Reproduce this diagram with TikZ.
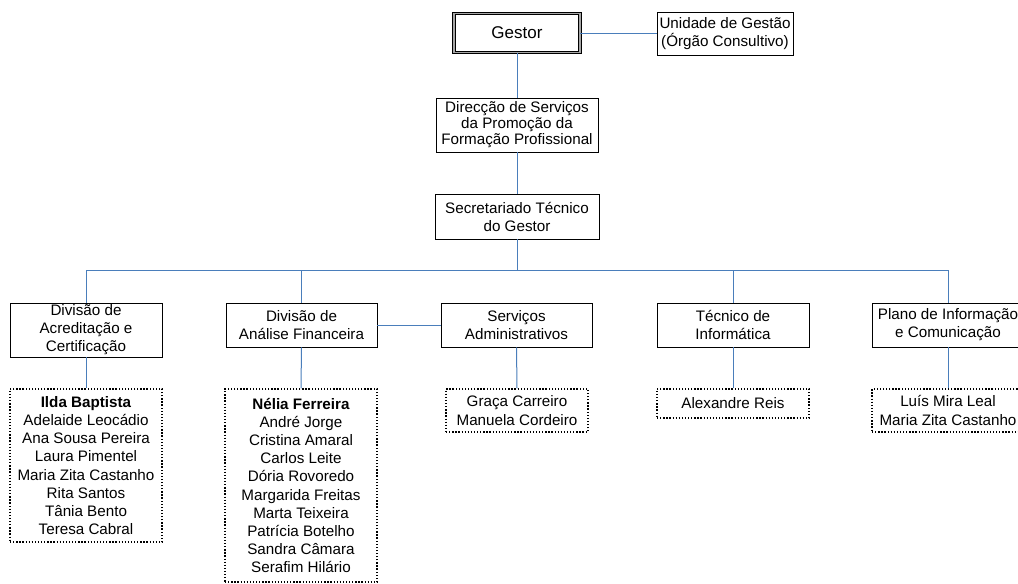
\documentclass[tikz,border=0pt]{standalone}
\usepackage{fontspec}
\setmainfont{Liberation Sans}
\definecolor{conn}{RGB}{74,126,187}
\begin{document}
\begin{tikzpicture}[x=1pt,y=-1pt,
  box/.style={draw=black, line width=0.9pt, fill=white, inner sep=0pt, align=center,
    font=\fontsize{15.2}{18}\selectfont},
  lst/.style={draw=black, line width=1.3pt, dash pattern=on 1.3pt off 1.8pt, fill=white, inner sep=0pt, align=center,
    font=\fontsize{15.2}{18.2}\selectfont},
  link/.style={draw=conn, line width=1pt}]
\useasboundingbox (0,0) rectangle (1018,584);
\clip (0,0) rectangle (1018,584);
\fill[white] (0,0) rectangle (1018,584);

% top
\node[box, line width=0.8pt, double=gray!70, double distance=1.6pt, minimum width=126, minimum height=39,
  font=\fontsize{17}{20}\selectfont] (gestor) at (517,33) {Gestor};
\node[box, minimum width=136, minimum height=43] (unid) at (725,33.5) {Unidade de Gestão\\(Órgão Consultivo)};
\node[box, minimum width=162, minimum height=54, font=\fontsize{15.2}{16}\selectfont] (dir) at (517,125)
  {Direcção de Serviços\\da Promoção da\\Formação Profissional};
\node[box, minimum width=164, minimum height=45] (sec) at (517,216.5) {Secretariado Técnico\\do Gestor};

% second level
\node[box, minimum width=152, minimum height=54] (acr) at (86,330) {Divisão de\\Acreditação e\\Certificação};
\node[box, minimum width=151, minimum height=44] (ana) at (301.5,325) {Divisão de\\Análise Financeira};
\node[box, minimum width=151, minimum height=44] (serv) at (516.5,325) {Serviços\\Administrativos};
\node[box, minimum width=152, minimum height=44] (tec) at (733,325) {Técnico de\\Informática};
\node[box, minimum width=152, minimum height=44] (plano) at (948,325) {Plano de Informação\\e Comunicação};

% staff lists
\node[lst, minimum width=152, minimum height=153] (ilda) at (86,465.5)
  {\textbf{Ilda Baptista}\\Adelaide Leocádio\\Ana Sousa Pereira\\Laura Pimentel\\Maria Zita Castanho\\Rita Santos\\Tânia Bento\\Teresa Cabral};
\node[lst, minimum width=152, minimum height=193] (nelia) at (301,485.5)
  {\textbf{Nélia Ferreira}\\André Jorge\\Cristina Amaral\\Carlos Leite\\Dória Rovoredo\\Margarida Freitas\\Marta Teixeira\\Patrícia Botelho\\Sandra Câmara\\Serafim Hilário};
\node[lst, minimum width=142, minimum height=43] (graca) at (517,410.5) {Graça Carreiro\\Manuela Cordeiro};
\node[lst, minimum width=152, minimum height=29] (alex) at (733,403.5) {Alexandre Reis};
\node[lst, minimum width=152, minimum height=43] (luis) at (948,410.5) {Luís Mira Leal\\Maria Zita Castanho};

% connectors
\coordinate (busL) at (86,270);
\coordinate (busR) at (948,270);
\draw[link] (gestor.east) -- (gestor.east -| unid.west);
\draw[link] (gestor.south) -- (dir.north);
\draw[link] (dir.south) -- (sec.north);
\draw[link] (sec.south) -- (sec.south |- busL);
\draw[link] (busL) -- (busR);
\draw[link] (acr.north |- busL) -- (acr.north);
\draw[link] (ana.north |- busL) -- (ana.north);
\draw[link] (tec.north |- busL) -- (tec.north);
\draw[link] (plano.north |- busL) -- (plano.north);
\draw[link] (ana.east) -- (serv.west);
\draw[link] (acr.south) -- (ilda.north);
\draw[link] (ana.south) -- (nelia.north);
\draw[link] (serv.south) -- (graca.north);
\draw[link] (tec.south) -- (alex.north);
\draw[link] (plano.south) -- (luis.north);
\end{tikzpicture}
\end{document}
